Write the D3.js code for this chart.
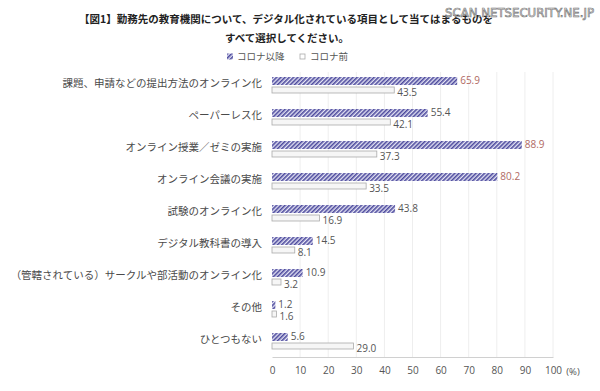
<!DOCTYPE html>
<meta charset="utf-8">
<script src="https://d3js.org/d3.v7.min.js"></script>
<style>
  body { margin: 0; background: #fff; }
  text { font-family: "Noto Sans CJK JP", "Noto Sans", sans-serif; }
</style>
<svg id="chart" width="600" height="391"></svg>
<script>

// Data
var categories = [
  "課題、申請などの提出方法のオンライン化",
  "ペーパーレス化",
  "オンライン授業／ゼミの実施",
  "オンライン会議の実施",
  "試験のオンライン化",
  "デジタル教科書の導入",
  "（管轄されている）サークルや部活動のオンライン化",
  "その他",
  "ひとつもない"
];
var afterCovid  = [65.9, 55.4, 88.9, 80.2, 43.8, 14.5, 10.9, 1.2, 5.6];
var beforeCovid = [43.5, 42.1, 37.3, 33.5, 16.9, 8.1, 3.2, 1.6, 29.0];
var seriesNames = ["コロナ以降", "コロナ前"];
var xTicks = [0, 10, 20, 30, 40, 50, 60, 70, 80, 90, 100];

var svg = d3.select("#chart");
var numFont = "'Open Sans', 'Noto Sans', sans-serif";

// hatch pattern for the "after" series
var defs = svg.append("defs");
var pat = defs.append("pattern")
    .attr("id", "hatch")
    .attr("patternUnits", "userSpaceOnUse")
    .attr("width", 3).attr("height", 3)
    .attr("patternTransform", "rotate(45)");
pat.append("rect").attr("width", 3).attr("height", 3).attr("fill", "#e4e4f4");
pat.append("rect").attr("width", 1.6).attr("height", 3).attr("fill", "#4e4b9e");

var x = d3.scaleLinear().domain([0, 100]).range([272, 553]);
var y = d3.scaleBand().domain(categories).range([77, 349]).paddingInner(0.5).paddingOuter(0);

var data = categories.map(function(c, i) {
  return { name: c, after: afterCovid[i], before: beforeCovid[i] };
});

// Gridlines
svg.append("g")
  .selectAll("line")
  .data(xTicks.slice(1))
  .enter()
  .append("line")
    .attr("x1", function(d) { return x(d); })
    .attr("x2", function(d) { return x(d); })
    .attr("y1", 72)
    .attr("y2", 357)
    .attr("stroke", "#eeeeee")
    .attr("stroke-width", 1);

// X axis
var xAxis = svg.append("g")
  .attr("transform", "translate(0,357)")
  .call(d3.axisBottom(x).tickValues(xTicks).tickSize(0).tickPadding(10));
xAxis.select(".domain").attr("stroke", "#d0d0d0");
xAxis.selectAll("text")
  .style("font-size", "10px")
  .attr("fill", "#555")
  .style("font-family", numFont);

svg.append("text")
  .attr("x", 573).attr("y", 375)
  .attr("text-anchor", "middle")
  .style("font-size", "9.5px")
  .style("font-family", numFont)
  .attr("fill", "#555")
  .text("(%)");

var barH = 8;
var group = svg.append("g")
  .selectAll("g")
  .data(data)
  .enter()
  .append("g")
    .attr("transform", function(d) { return "translate(0," + y(d.name) + ")"; });

// after bars (hatched)
group.append("rect")
  .attr("x", x(0))
  .attr("y", 0)
  .attr("width", function(d) { return x(d.after) - x(0); })
  .attr("height", barH)
  .attr("fill", "url(#hatch)");

// before bars (white w/ gray outline)
group.append("rect")
  .attr("x", x(0))
  .attr("y", barH + 2)
  .attr("width", function(d) { return x(d.before) - x(0); })
  .attr("height", 6)
  .attr("fill", "#f6f6f6")
  .attr("stroke", "#aaaaaa")
  .attr("stroke-width", 0.8);

// value labels
group.append("text")
  .attr("x", function(d) { return x(d.after) + 3; })
  .attr("y", 3.5)
  .attr("dy", "0.35em")
  .style("font-size", "10px")
  .style("font-family", numFont)
  .attr("fill", function(d) { return d.after > 60 ? "#b06a64" : "#555"; })
  .text(function(d) { return d.after.toFixed(1); });

group.append("text")
  .attr("x", function(d) { return x(d.before) + 3; })
  .attr("y", 15.5)
  .attr("dy", "0.35em")
  .style("font-size", "10px")
  .style("font-family", numFont)
  .attr("fill", "#555")
  .text(function(d) { return d.before.toFixed(1); });

// category labels
group.append("text")
  .attr("x", 262)
  .attr("y", 6)
  .attr("dy", "0.35em")
  .attr("text-anchor", "end")
  .style("font-size", "10.5px")
  .attr("fill", "#4a4a4a")
  .text(function(d) { return d.name; });

// Title
svg.append("text")
  .attr("x", 286).attr("y", 23)
  .attr("text-anchor", "middle")
  .style("font-size", "10.5px")
  .style("font-weight", "bold")
  .attr("fill", "#222")
  .text("【図1】勤務先の教育機関について、デジタル化されている項目として当てはまるものを");
svg.append("text")
  .attr("x", 287).attr("y", 42)
  .attr("text-anchor", "middle")
  .style("font-size", "10.5px")
  .style("font-weight", "bold")
  .attr("fill", "#222")
  .text("すべて選択してください。");

// Legend
var legend = svg.append("g");
legend.append("rect")
  .attr("x", 227).attr("y", 53.5).attr("width", 6).attr("height", 6)
  .attr("fill", "url(#hatch)");
legend.append("text")
  .attr("x", 237).attr("y", 57).attr("dy", "0.35em")
  .style("font-size", "9.5px").attr("fill", "#555")
  .text(seriesNames[0]);
legend.append("rect")
  .attr("x", 300).attr("y", 54).attr("width", 5).attr("height", 5)
  .attr("fill", "#fff").attr("stroke", "#aaa").attr("stroke-width", 0.8);
legend.append("text")
  .attr("x", 310).attr("y", 57).attr("dy", "0.35em")
  .style("font-size", "9.5px").attr("fill", "#555")
  .text(seriesNames[1]);

// Watermark
svg.append("text")
  .attr("x", 445).attr("y", 17)
  .attr("textLength", 149)
  .attr("lengthAdjust", "spacingAndGlyphs")
  .style("font-size", "12.5px")
  .style("font-family", "'DejaVu Sans', sans-serif")
  .attr("fill", "#fff")
  .attr("stroke", "#777")
  .attr("stroke-width", 0.7)
  .text("SCAN.NETSECURITY.NE.JP");

</script>
